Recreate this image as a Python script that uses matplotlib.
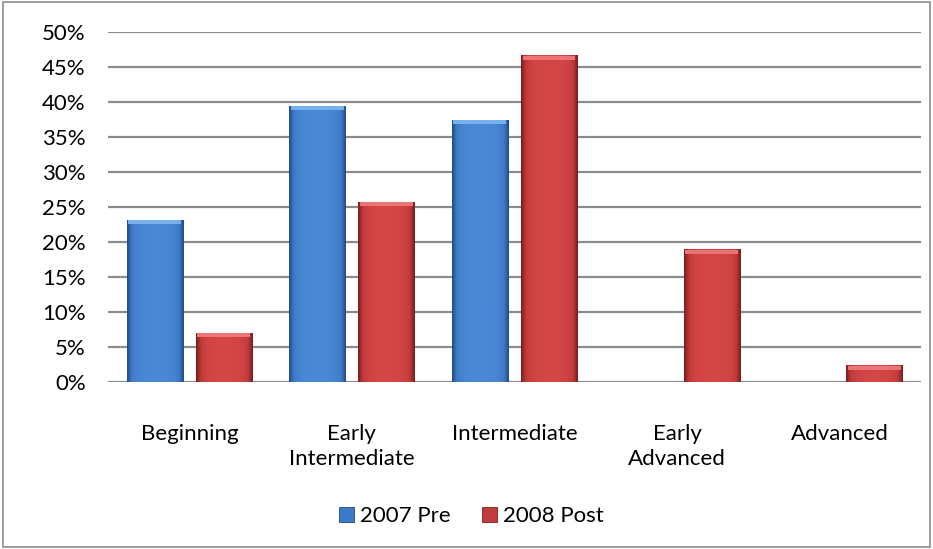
import matplotlib.pyplot as plt
import numpy as np
from matplotlib.patches import Rectangle
from matplotlib.colors import LinearSegmentedColormap

categories = ["Beginning", "Early\nIntermediate", "Intermediate", "Early\nAdvanced", "Advanced"]
pre_2007 = [23.1, 39.4, 37.4, 0, 0]
post_2008 = [7.0, 25.7, 46.6, 18.9, 2.3]
series_labels = ["2007 Pre", "2008 Post"]

plt.rcParams['font.family'] = ['Lato', 'DejaVu Sans']

fig = plt.figure(figsize=(9.33, 5.49), dpi=100)
ax = fig.add_axes([0.1158, 0.3042, 0.8712, 0.6375])

x = np.arange(len(categories))
w = 0.345
gap = 0.04
b1 = ax.bar(x - w / 2 - gap, pre_2007, w, color='#3d7bc9', edgecolor='#24497a', linewidth=0.6, zorder=3,
            label=series_labels[0])
b2 = ax.bar(x + w / 2 + gap, post_2008, w, color='#c33b3b', edgecolor='#7a2020', linewidth=0.6, zorder=3,
            label=series_labels[1])

# shading across each bar, darker towards the edges, lighter bevel on top
grad = np.linspace(-1, 1, 40)
shade = (1 - grad ** 4).reshape(1, -1)
for bars, cols, top_col in [(b1, ['#23508a', '#3d7bc9', '#4a88d6'], '#78b0ee'),
                            (b2, ['#7d1f1f', '#c13a3a', '#d44646'], '#ec7474')]:
    cmap = LinearSegmentedColormap.from_list('s', cols)
    for r in bars:
        h = r.get_height()
        if h <= 0:
            continue
        x0, x1 = r.get_x(), r.get_x() + r.get_width()
        ax.imshow(shade, cmap=cmap, vmin=0, vmax=1, aspect='auto', extent=(x0, x1, 0, h),
                  zorder=3.5, interpolation='bilinear')
        ax.add_patch(Rectangle((x0 + 0.01, h - 0.55), x1 - x0 - 0.02, 0.55, color=top_col, zorder=4, lw=0))

ax.set_xlim(-0.5, len(categories) - 0.5)
ax.set_ylim(0, 50)
ax.set_yticks(np.arange(0, 51, 5))
ax.set_yticklabels([f"{v}%" for v in range(0, 51, 5)])
ax.yaxis.grid(True, color='#8c8c8c', linewidth=1.6, zorder=0)
ax.set_xticks(x)
ax.set_xticklabels(categories, linespacing=1.35)
ax.tick_params(axis='both', length=0, labelsize=16, colors='black')
ax.tick_params(axis='y', pad=16)
ax.tick_params(axis='x', pad=30)
for s in ax.spines.values():
    s.set_visible(False)

fig.legend(loc='center', bbox_to_anchor=(0.505, 0.06), ncol=2, frameon=False, fontsize=16,
           handlelength=0.7, handleheight=0.7, handletextpad=0.25, columnspacing=1.4)

fig.patches.append(Rectangle((0.003, 0.004), 0.994, 0.992, transform=fig.transFigure,
                             fill=False, edgecolor='#8c8c8c', linewidth=1.2))

fig.savefig("out.png", dpi=100)
